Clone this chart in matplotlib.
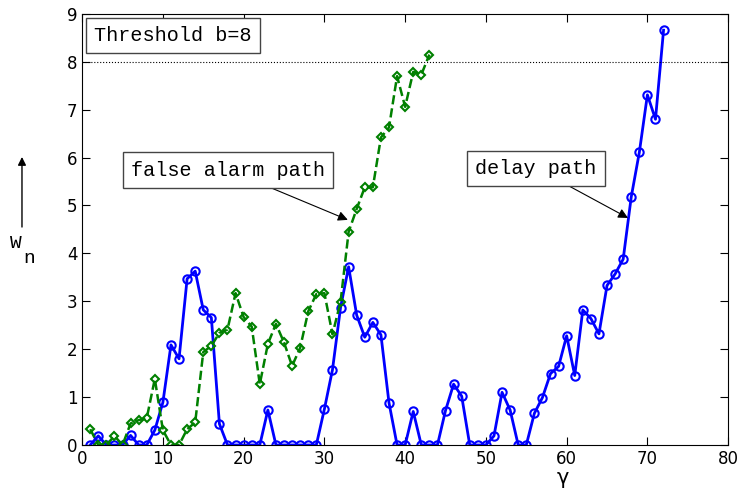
import matplotlib
matplotlib.use("Agg")
import matplotlib.pyplot as plt
import numpy as np

# delay path (blue, solid, circles)
delayX = list(range(1, 73))
delayY = [0, 0.19, 0, 0, 0, 0.2, 0, 0, 0.31, 0.89,
          2.09, 1.80, 3.47, 3.63, 2.82, 2.66, 0.44, 0, 0, 0,
          0, 0, 0.73, 0, 0, 0, 0, 0, 0, 0.75,
          1.57, 2.87, 3.72, 2.71, 2.25, 2.56, 2.30, 0.88, 0, 0,
          0.70, 0, 0, 0, 0.72, 1.27, 1.02, 0, 0, 0,
          0.19, 1.10, 0.73, 0, 0, 0.66, 0.99, 1.49, 1.64, 2.28,
          1.45, 2.82, 2.64, 2.32, 3.33, 3.57, 3.88, 5.18, 6.11, 7.31,
          6.80, 8.66]

# false alarm path (green, dashed, diamonds)
alarmX = list(range(1, 44))
alarmY = [0.33, 0, 0, 0.19, 0, 0.45, 0.52, 0.56, 1.38, 0.31,
          0, 0, 0.33, 0.47, 1.94, 2.07, 2.34, 2.41, 3.17, 2.67,
          2.47, 1.27, 2.11, 2.53, 2.14, 1.65, 2.03, 2.79, 3.15, 3.17,
          2.31, 2.99, 4.45, 4.93, 5.38, 5.38, 6.42, 6.63, 7.70, 7.06,
          7.79, 7.73, 8.15]

threshold = 8

def main():
    fig = plt.figure(figsize=(7.4, 4.91), dpi=100)
    ax = fig.add_axes([0.111, 0.0937, 0.873, 0.878])

    ax.plot(delayX, delayY, '-', color='blue', lw=2, marker='o', ms=6,
            mfc='none', mec='blue', mew=1.5)
    ax.plot(alarmX, alarmY, '--', color='green', lw=1.8, marker='D', ms=4.5,
            mfc='none', mec='green', mew=1.5)
    ax.axhline(threshold, color='black', ls=':', lw=0.8)

    ax.set_xlim(0, 80)
    ax.set_ylim(0, 9)
    ax.set_xticks(np.arange(0, 81, 10))
    ax.set_yticks(np.arange(0, 10, 1))
    ax.tick_params(direction='in', top=True, right=True, labelsize=12, length=6)

    boxStyle = dict(boxstyle='square,pad=0.4', fc='white', ec='#444444', lw=1)
    mono = 'Liberation Mono'
    ax.text(1.45, 8.55, 'Threshold b=8', family=mono, fontsize=14.5,
            va='center', ha='left', bbox=boxStyle)
    ax.annotate('false alarm path', xy=(32.9, 4.7), xytext=(18.1, 5.74),
                family=mono, fontsize=14.5, ha='center', va='center', bbox=boxStyle,
                arrowprops=dict(arrowstyle='-|>', color='black', lw=0.8,
                                shrinkA=0, shrinkB=0))
    ax.annotate('delay path', xy=(67.6, 4.74), xytext=(56.2, 5.78),
                family=mono, fontsize=14.5, ha='center', va='center', bbox=boxStyle,
                arrowprops=dict(arrowstyle='-|>', color='black', lw=0.8,
                                shrinkA=0, shrinkB=0))

    # x label placed to the right, as in the original figure
    fig.text(563 / 740, 0.0143, 'γ', fontsize=15, ha='center', va='baseline')

    # y label: W_n with an up arrow above it
    fig.text(0.0216, 0.505, 'W', family=mono, fontsize=14, ha='center', va='center')
    fig.text(0.039, 0.4745, 'n', family=mono, fontsize=14, ha='center', va='center')
    fig.add_artist(matplotlib.patches.FancyArrowPatch(
        (0.0297, 0.532), (0.0297, 0.686), transform=fig.transFigure,
        arrowstyle='-|>', mutation_scale=12, color='black', lw=1))

    fig.savefig('out.png', dpi=100)

if __name__ == '__main__':
    main()
